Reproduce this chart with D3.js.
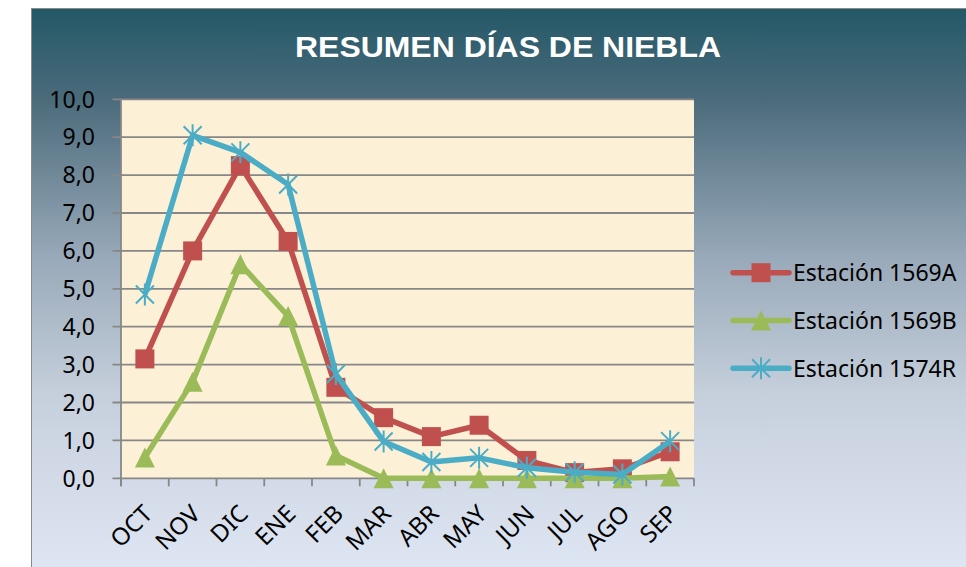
<!DOCTYPE html>
<html>
<head>
<meta charset="utf-8">
<script src="https://cdn.jsdelivr.net/npm/d3@7"></script>
<style>
  body { margin: 0; background: #fff; }
  svg { display: block; font-family: 'Noto Sans', sans-serif; }
</style>
</head>
<body>
<svg width="966" height="567"></svg>
<script>
const months = ['OCT', 'NOV', 'DIC', 'ENE', 'FEB', 'MAR', 'ABR', 'MAY', 'JUN', 'JUL', 'AGO', 'SEP'];
const est1569A = [3.15, 6.0, 8.25, 6.25, 2.4, 1.6, 1.1, 1.4, 0.47, 0.15, 0.25, 0.7];
const est1569B = [0.55, 2.55, 5.65, 4.28, 0.6, 0, 0, 0, 0, 0, 0, 0.05];
const est1574R = [4.85, 9.05, 8.6, 7.75, 2.75, 0.97, 0.43, 0.54, 0.28, 0.16, 0.1, 0.98];
const yTicks = [0, 1, 2, 3, 4, 5, 6, 7, 8, 9, 10];

const series = [
  { name: 'Estación 1569A', values: est1569A, color: '#c0504d', marker: 'square' },
  { name: 'Estación 1569B', values: est1569B, color: '#9bbb59', marker: 'triangle' },
  { name: 'Estación 1574R', values: est1574R, color: '#4bacc6', marker: 'star' },
];

const svg = d3.select('svg');

const defs = svg.append('defs');
const grad = defs.append('linearGradient')
  .attr('id', 'bg')
  .attr('x1', 0).attr('y1', 0).attr('x2', 0).attr('y2', 1);
[[0, '#235867'], [0.16, '#4b6b7b'], [0.43, '#97a8b8'], [0.68, '#c6d0dc'], [1, '#e0e7f4']]
  .forEach(([o, c]) => grad.append('stop').attr('offset', o).attr('stop-color', c));

// chart area
svg.append('rect')
  .attr('x', 31.5).attr('y', 8.5)
  .attr('width', 960).attr('height', 570)
  .attr('fill', 'url(#bg)')
  .attr('stroke', '#8a8a8a')
  .attr('stroke-width', 1);

svg.append('text')
  .attr('x', 508)
  .attr('y', 57)
  .attr('text-anchor', 'middle')
  .attr('fill', '#fff')
  .style('font-family', "'Liberation Sans', Arial, sans-serif")
  .style('font-weight', 'bold')
  .style('font-size', '29px')
  .attr('textLength', 426)
  .attr('lengthAdjust', 'spacingAndGlyphs')
  .text('RESUMEN DÍAS DE NIEBLA');

const x = d3.scaleBand().domain(months).range([121, 694]);
const y = d3.scaleLinear().domain([0, 10]).range([478.3, 99.3]);

// plot area
svg.append('rect')
  .attr('x', x.range()[0])
  .attr('y', y(10))
  .attr('width', x.range()[1] - x.range()[0])
  .attr('height', y(0) - y(10))
  .attr('fill', '#fcf0d7');

const grid = svg.append('g').attr('class', 'grid');
grid.selectAll('line')
  .data(yTicks)
  .enter().append('line')
  .attr('x1', 112.5)
  .attr('x2', 694)
  .attr('y1', d => y(d))
  .attr('y2', d => y(d))
  .attr('stroke', '#878787')
  .attr('stroke-width', 1.8);

// y axis line
svg.append('line')
  .attr('x1', 121).attr('x2', 121)
  .attr('y1', y(10)).attr('y2', y(0) + 8)
  .attr('stroke', '#878787')
  .attr('stroke-width', 1.8);

// x ticks at category boundaries
const bounds = months.map(m => x(m)).concat([x.range()[1]]);
svg.append('g')
  .selectAll('line')
  .data(bounds)
  .enter().append('line')
  .attr('x1', d => d).attr('x2', d => d)
  .attr('y1', y(0)).attr('y2', y(0) + 8)
  .attr('stroke', '#878787')
  .attr('stroke-width', 1.8);

svg.append('g')
  .selectAll('text')
  .data(yTicks)
  .enter().append('text')
  .attr('x', 95)
  .attr('y', d => y(d))
  .attr('dy', '0.36em')
  .attr('text-anchor', 'end')
  .style('font-size', '23px')
  .attr('fill', '#000')
  .text(d => d3.format('.1f')(d).replace('.', ','));

svg.append('g')
  .selectAll('text')
  .data(months)
  .enter().append('text')
  .attr('transform', d => `translate(${x(d) + x.bandwidth() / 2 + 9},${y(0) + 37}) rotate(-45)`)
  .attr('text-anchor', 'end')
  .style('font-size', '24px')
  .attr('fill', '#000')
  .text(d => d);

function drawMarker(g, type, color) {
  if (type === 'square') {
    g.append('rect')
      .attr('x', -9.5).attr('y', -9.5)
      .attr('width', 19).attr('height', 19)
      .attr('fill', color);
  } else if (type === 'triangle') {
    g.append('path')
      .attr('d', 'M0,-10L10,10L-10,10Z')
      .attr('fill', color);
  } else {
    g.append('path')
      .attr('d', 'M-9,-9L9,9M-9,9L9,-9M0,-11L0,11')
      .attr('stroke', color)
      .attr('stroke-width', 2)
      .attr('fill', 'none');
  }
}

const line = d3.line()
  .x((d, i) => x(months[i]) + x.bandwidth() / 2)
  .y(d => y(d));

series.forEach(function(s) {
  const g = svg.append('g').attr('class', 'series');
  g.append('path')
    .attr('d', line(s.values))
    .attr('fill', 'none')
    .attr('stroke', s.color)
    .attr('stroke-width', 5.5)
    .attr('stroke-linejoin', 'round');
  g.selectAll('.marker')
    .data(s.values)
    .enter().append('g')
    .attr('class', 'marker')
    .attr('transform', (d, i) => `translate(${x(months[i]) + x.bandwidth() / 2},${y(d)})`)
    .each(function() { drawMarker(d3.select(this), s.marker, s.color); });
});

// legend
const legend = svg.append('g')
  .selectAll('g')
  .data(series)
  .enter().append('g')
  .attr('transform', (d, i) => `translate(733,${272.7 + i * 47.8})`);

legend.append('line')
  .attr('x1', 0).attr('x2', 56)
  .attr('stroke', d => d.color)
  .attr('stroke-width', 5.5)
  .attr('stroke-linecap', 'round');

legend.append('g')
  .attr('transform', 'translate(28,0)')
  .each(function(d) { drawMarker(d3.select(this), d.marker, d.color); });

legend.append('text')
  .attr('x', 60)
  .attr('dy', '0.36em')
  .style('font-size', '23px')
  .attr('fill', '#000')
  .text(d => d.name);
</script>
</body>
</html>
